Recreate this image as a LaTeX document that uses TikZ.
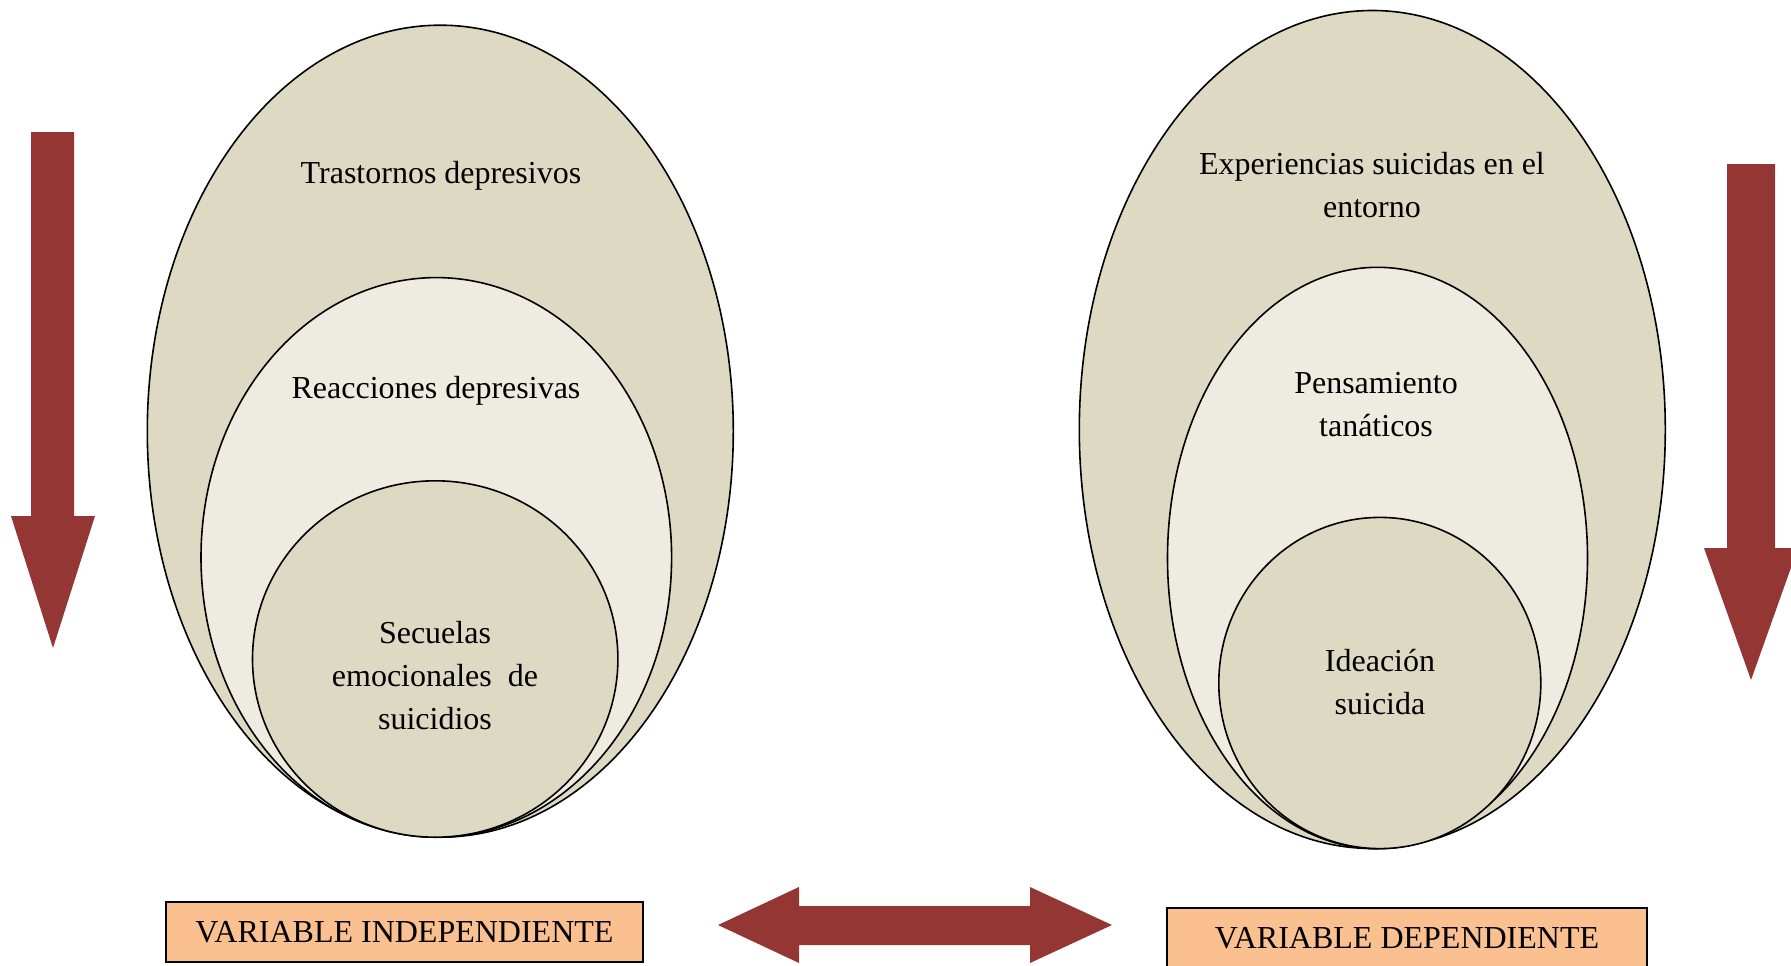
\documentclass[tikz,border=0pt]{standalone}
\usepackage{fontspec}
\setmainfont{Liberation Serif}
\definecolor{beige}{HTML}{DDD9C3}
\definecolor{cream}{HTML}{EEECE1}
\definecolor{brick}{HTML}{943634}
\definecolor{peach}{HTML}{FAC090}
\begin{document}
\begin{tikzpicture}[x=1pt,y=-1pt,
  ring/.style={draw=black,line width=1.6pt},
  lbl/.style={align=center,inner sep=0pt,font=\fontsize{32}{43}\selectfont},
  varbox/.style={draw=black,line width=2.2pt,fill=peach},
  blockarrow/.style={fill=brick,draw=none}]
\useasboundingbox (0,0) rectangle (1791,966);

% left group of nested ellipses
\draw[ring,fill=beige] (440.3,431.2) ellipse [x radius=293,y radius=406];
\draw[ring,fill=cream] (436.3,557.4) ellipse [x radius=235.3,y radius=279.8];
\draw[ring,fill=beige] (435.2,659) ellipse [x radius=182.7,y radius=178.2];

% right group of nested ellipses
\draw[ring,fill=beige] (1372.3,429.5) ellipse [x radius=293,y radius=419];
\draw[ring,fill=cream] (1377.5,558) ellipse [x radius=210,y radius=290.7];
\draw[ring,fill=beige] (1379.8,683) ellipse [x radius=161,y radius=165.6];

% labels inside the ellipses
\node[lbl] (td) at (441,176) {Trastornos depresivos};
\node[lbl] (rd) at (436,391) {Reacciones depresivas};
\node[lbl] (se) at (435,676) {Secuelas\\emocionales \ de\\suicidios};
\node[lbl] (es) at (1372,185) {Experiencias suicidas en el\\entorno};
\node[lbl] (pt) at (1376,405) {Pensamiento\\tanáticos};
\node[lbl] (is) at (1380,682) {Ideación\\suicida};

% variable boxes
\draw[varbox] (166,902) rectangle (643,962);
\node[lbl] (vi) at (404.5,932) {VARIABLE INDEPENDIENTE};
\draw[varbox] (1167,908) rectangle (1647,990);
\node[lbl] (vd) at (1407,938) {VARIABLE DEPENDIENTE};

% downward block arrows
\fill[blockarrow] (31,132) -- (74,132) -- (74,516) -- (95,516) -- (53,648)
  -- (11,516) -- (31,516) -- cycle;
\fill[blockarrow] (1727,164) -- (1775,164) -- (1775,548) -- (1798,548)
  -- (1751,680) -- (1704,548) -- (1727,548) -- cycle;

% double-headed block arrow between the variables
\fill[blockarrow] (718,925) -- (799,887) -- (799,906) -- (1030,906) -- (1030,887)
  -- (1112,925) -- (1030,963) -- (1030,945) -- (799,945) -- (799,963) -- cycle;
\end{tikzpicture}
\end{document}
